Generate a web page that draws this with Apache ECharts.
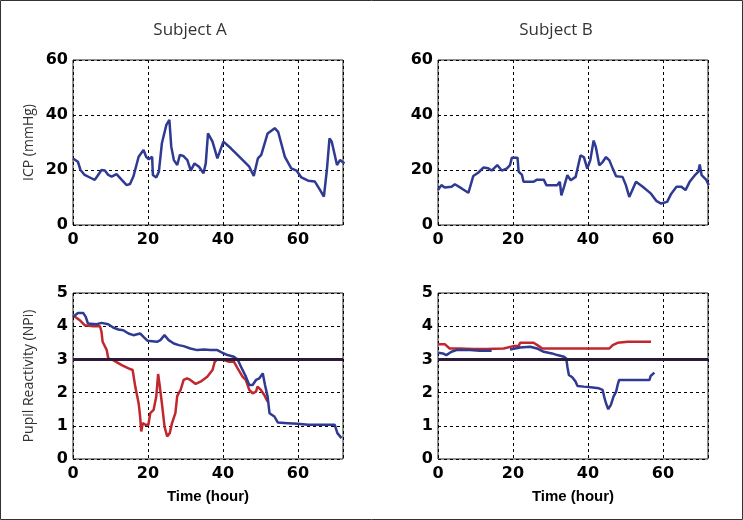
<!DOCTYPE html>
<html><head><meta charset="utf-8">
<script src="https://cdn.jsdelivr.net/npm/echarts@6/dist/echarts.min.js"></script>
<style>html,body{margin:0;padding:0;background:#fff}#c{width:743px;height:520px}</style>
</head><body><div id="c"></div>
<script>
// ICP Subject A [time(hour), mmHg]
const icpA = [[0,24.2],[1.3,23],[2,20],[3.1,18.2],[4.9,17],[5.8,16.4],[6.7,18.2],[7.6,20],[8.5,19.8],[9.4,18.2],[10.3,17.6],[11.6,18.5],[13,16.4],[14.3,14.5],[15.2,14.9],[16.1,17.6],[17.5,24.8],[18.8,27.3],[19.5,24.8],[20.2,23.9],[21.1,24.8],[21.3,18.2],[22.2,17.3],[22.9,19.4],[23.7,29.7],[24.9,36.4],[25.7,38.2],[26.2,28.5],[26.9,23.6],[27.8,21.8],[28.5,25.5],[29.4,25.1],[30.5,23.6],[31.4,19.8],[32.4,22.4],[33.6,21.2],[34.8,18.8],[35.4,22.4],[36,33.3],[37.2,30.3],[38.5,24.2],[40.1,30.3],[42.1,27.9],[44.8,24.2],[47,21.2],[48.2,17.8],[49.3,24.2],[50.2,25.5],[51.9,33.3],[53.8,35.2],[54.7,33.9],[56.5,24.8],[58.2,20.6],[59.6,19.8],[60.9,17.3],[62.7,16.1],[64.5,15.8],[65.9,12.7],[66.9,10.3],[67.7,20],[68.4,31.5],[69,30.3],[70.4,21.8],[71.2,23.6],[72.4,22.4]];
// ICP Subject B
const icpB = [[0,12.7],[0.9,14.5],[1.8,13.6],[3.6,13.9],[4.5,14.8],[6.3,13.3],[8.1,11.7],[9.4,17.8],[10.7,19],[12.1,20.9],[13.4,20.6],[14.3,19.8],[15.8,21.8],[17,19.8],[18.4,20.6],[19.2,21.8],[19.7,24.5],[21.2,24.5],[21.5,19.4],[22.4,18.2],[22.8,15.7],[25.5,15.7],[26.4,16.5],[28.2,16.5],[28.9,14.5],[31.8,14.5],[32.5,15.7],[32.9,10.8],[33.6,13.9],[34.5,18.1],[35.4,16.3],[36.7,17.5],[38,25.3],[38.9,24.7],[39.8,20.5],[40.6,23.5],[41.5,30.7],[42.1,28.3],[43,21.7],[43.9,22.9],[44.8,24.7],[45.7,23.5],[46.6,20.5],[47.5,17.7],[49.2,17.5],[50.1,14.5],[51,10.2],[52.8,15.7],[54.6,13.9],[56.8,11.4],[58.2,8.8],[59.5,7.8],[61.1,8.4],[62.2,11.4],[63.6,13.9],[64.9,13.9],[66,12.7],[67.1,15.7],[68.5,18.1],[69.4,19.3],[69.8,22],[70.3,18.1],[71.6,16.3],[72.2,14.5]];
// NPi Subject A, blue and red
const npiAblue = [[0,4.28],[1.3,4.4],[2.7,4.4],[3.4,4.28],[4,4.08],[6.3,4.06],[7.6,4.1],[9.4,4.06],[10.7,3.96],[12.1,3.9],[13.4,3.88],[14.8,3.78],[16.1,3.73],[17.9,3.78],[18.8,3.68],[19.9,3.56],[22.4,3.53],[23.3,3.58],[24.4,3.73],[25.5,3.58],[26.9,3.48],[28.2,3.43],[29.5,3.4],[31.3,3.33],[33.1,3.28],[34.9,3.3],[36.7,3.28],[38.5,3.28],[39.8,3.2],[41.2,3.13],[42.9,3.08],[43.9,3.0],[44.8,2.78],[46.1,2.48],[47,2.23],[47.9,2.23],[48.8,2.38],[49.7,2.43],[50.6,2.58],[51.2,2.23],[51.9,1.88],[52.4,1.38],[53.7,1.28],[54.6,1.1],[57.3,1.08],[59.9,1.06],[62.7,1.03],[66.3,1.03],[69.8,1.03],[70.5,0.78],[71.6,0.63]];
const npiAred = [[0,4.33],[1.8,4.18],[3.1,4.03],[5.4,4.0],[7.2,4.0],[7.6,3.83],[7.9,3.53],[9,3.28],[9.4,3.03],[10.7,2.98],[13,2.83],[14.8,2.73],[15.9,2.68],[16.6,2.18],[17.5,1.68],[17.9,1.28],[18.2,0.83],[18.6,1.08],[19.3,1.03],[20.1,1.03],[20.6,1.38],[21.5,1.48],[22.2,1.88],[22.7,2.56],[23.1,2.23],[23.7,1.68],[24.4,0.98],[25.1,0.68],[25.8,0.78],[26.4,1.08],[27.3,1.38],[27.8,1.9],[28.7,2.08],[29.5,2.38],[30.4,2.43],[31.3,2.38],[32.7,2.26],[34,2.33],[35.8,2.48],[37.2,2.68],[37.8,2.93],[38.5,3.0],[40.3,2.98],[41.6,2.93],[42.9,2.93],[43.9,2.73],[45.2,2.48],[46.1,2.38],[47,2.08],[47.9,1.98],[48.8,2.03],[49.2,2.18],[50.1,2.08],[51,1.93],[51.9,1.73]];
// NPi Subject B, blue and red
const npiBblue = [[0,3.2],[1.3,3.18],[2.2,3.13],[3.6,3.23],[4.9,3.28],[8.5,3.28],[11.2,3.26],[14.3,3.26],[16,null],[19.2,3.3],[21.9,3.36],[24.6,3.38],[26.4,3.33],[28.2,3.23],[30.4,3.18],[31.8,3.13],[33.6,3.08],[34.2,3.03],[34.5,2.78],[34.9,2.53],[35.8,2.46],[36.7,2.33],[37.2,2.2],[38.9,2.18],[40.7,2.16],[42.9,2.13],[43.9,2.08],[44.3,1.88],[44.8,1.68],[45.4,1.5],[46.1,1.63],[46.8,1.88],[47.5,2.03],[47.9,2.23],[48.3,2.38],[50.6,2.38],[54.2,2.38],[56.4,2.38],[56.7,2.5],[57.7,2.6]];
const npiBred = [[0,3.46],[1.8,3.46],[3.1,3.33],[5.8,3.33],[9.4,3.31],[13,3.31],[17.5,3.33],[20.1,3.4],[21.5,3.4],[21.9,3.5],[25.5,3.5],[26.9,3.4],[27.8,3.33],[32.7,3.33],[37.2,3.33],[41.6,3.33],[45.7,3.33],[46.6,3.43],[47.9,3.5],[50.6,3.53],[54.2,3.53],[56.8,3.53]];
const threshold = 3;
const titles = ['Subject A','Subject B'];
const yNames = ['ICP (mmHg)','Pupil Reactivity (NPi)'];
const xName = 'Time (hour)';

const BLUE = '#2f3a92', RED = '#c0282e', THR = '#2a1a38';
const grids = [
  {left:73, top:60, width:270, height:165},
  {left:438, top:60, width:270, height:165},
  {left:73, top:293, width:270, height:166},
  {left:438, top:293, width:270, height:166}
];
const tickFont = {color:'#000', fontFamily:'DejaVu Sans, Liberation Sans, Arial', fontWeight:'bold', fontSize:16};
function xAx(i, bottom){
  return {type:'value', gridIndex:i, min:0, max:72, interval:20,
    axisLine:{show:false}, axisTick:{show:false},
    axisLabel:Object.assign({margin:7, showMaxLabel:false}, tickFont),
    splitLine:{show:true, lineStyle:{color:'#000', type:[3,3], width:1}},
    name: bottom ? xName : '', nameLocation:'middle', nameGap:30,
    nameTextStyle:{fontFamily:'Liberation Sans Narrow, Liberation Sans, Arial', fontWeight:'bold', fontSize:15, color:'#000'}};
}
function yAx(i, top, left){
  return {type:'value', gridIndex:i, min:0, max: top?60:5, interval: top?20:1,
    axisLine:{show:false}, axisTick:{show:false},
    axisLabel:Object.assign({margin:5}, tickFont),
    splitLine:{show:true, lineStyle:{color:'#000', type:[3,3], width:1}},
    name: left ? (top?yNames[0]:yNames[1]) : '', nameLocation:'middle', nameGap: 37,
    nameTextStyle:{fontFamily:'Open Sans, Lato, sans-serif', fontSize:14, color:'#333'}};
}
function line(data, color, xi){
  return {type:'line', xAxisIndex:xi, yAxisIndex:xi, data:data, showSymbol:false, symbol:'none',
    connectNulls:false, lineStyle:{color:color, width:2.5}, itemStyle:{color:color}, z:3};
}
function thr(xi){
  return {type:'line', xAxisIndex:xi, yAxisIndex:xi, data:[[0,threshold],[72,threshold]], showSymbol:false, symbol:'none',
    lineStyle:{color:THR, width:3}, z:4};
}
const chart = echarts.init(document.getElementById('c'), null, {renderer:'canvas'});
chart.setOption({
  animation:false,
  backgroundColor:'#fff',
  title:[
    {text:titles[0], left:185, top:17, textAlign:'center', textStyle:{fontFamily:'Open Sans, Lato, sans-serif', fontWeight:'normal', fontSize:17, color:'#333'}},
    {text:titles[1], left:551, top:17, textAlign:'center', textStyle:{fontFamily:'Open Sans, Lato, sans-serif', fontWeight:'normal', fontSize:17, color:'#333'}}
  ],
  grid: grids.map(g=>Object.assign({show:true, borderColor:'#222', borderWidth:1, backgroundColor:'transparent'}, g)),
  xAxis:[xAx(0,false), xAx(1,false), xAx(2,true), xAx(3,true)],
  yAxis:[yAx(0,true,true), yAx(1,true,false), yAx(2,false,true), yAx(3,false,false)],
  series:[
    line(icpA, BLUE, 0),
    line(icpB, BLUE, 1),
    thr(2), line(npiAred, RED, 2), line(npiAblue, BLUE, 2),
    thr(3), line(npiBred, RED, 3), line(npiBblue, BLUE, 3)
  ],
  graphic:[{type:'rect', shape:{x:0.5,y:0.5,width:742,height:519}, style:{fill:'none', stroke:'#333', lineWidth:1}, z:100}]
});
</script>
</body></html>
